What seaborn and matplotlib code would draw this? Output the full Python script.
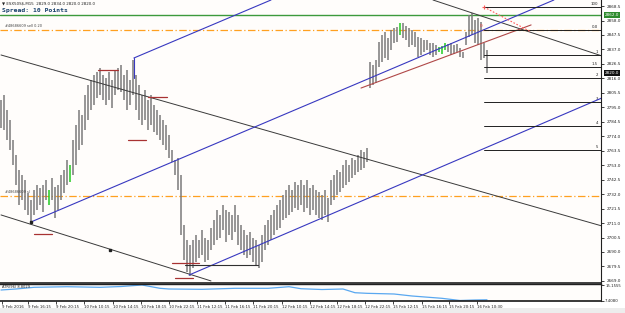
import matplotlib
matplotlib.use("Agg")
import matplotlib.pyplot as plt
import matplotlib.transforms as mtrans
import seaborn as sns
import pandas as pd

# ---------------- data ----------------
highs = [2800.5, 2804.0, 2793.0, 2786.0, 2771.5, 2760.5, 2749.5, 2746.0, 2742.5, 2733.0,
         2728.0, 2735.0, 2738.5, 2736.5, 2738.5, 2742.5, 2735.0, 2743.5, 2737.0, 2738.5,
         2746.0, 2749.5, 2757.0, 2753.0, 2771.5, 2782.0, 2793.0, 2789.5, 2804.0, 2811.0,
         2815.0, 2818.5, 2820.5, 2823.5, 2818.5, 2816.5, 2820.5, 2815.0, 2822.0, 2823.5,
         2825.5, 2818.5, 2822.0, 2815.0, 2829.5, 2818.5, 2811.0, 2804.0, 2807.5, 2800.5,
         2804.0, 2796.5, 2793.0, 2789.5, 2786.0, 2782.0, 2775.0, 2764.0, 2757.0, 2758.0,
         2746.0, 2709.5, 2698.5, 2695.0, 2698.5, 2702.5, 2698.5, 2706.0, 2700.0, 2698.5,
         2707.5, 2713.0, 2720.5, 2717.0, 2724.0, 2720.5, 2719.0, 2717.0, 2724.0, 2717.0,
         2709.5, 2706.0, 2702.5, 2704.5, 2700.0, 2698.5, 2695.0, 2702.5, 2709.5, 2713.0,
         2717.0, 2720.5, 2724.0, 2728.0, 2731.5, 2735.0, 2738.5, 2735.0, 2741.0, 2738.5,
         2742.5, 2738.5, 2742.5, 2736.5, 2738.5, 2735.0, 2733.5, 2731.5, 2735.0, 2729.0,
         2742.5, 2746.0, 2749.5, 2748.0, 2753.0, 2757.0, 2753.0, 2758.0, 2757.0, 2760.5,
         2764.0, 2762.5, 2765.5, 2828.0, 2825.5, 2829.5, 2842.5, 2847.5, 2849.5, 2845.5,
         2851.0, 2852.5, 2853.5, 2856.0, 2856.0, 2854.0, 2852.5, 2851.0, 2849.5, 2846.0,
         2845.5, 2844.0, 2844.0, 2841.5, 2841.5, 2840.0, 2839.0, 2839.5, 2841.5, 2841.0,
         2841.5, 2840.0, 2841.0, 2838.0, 2835.0, 2849.5, 2862.0, 2863.5, 2858.5, 2860.0,
         2857.0, 2841.5, 2836.5]
lows = [2780.0, 2778.5, 2771.5, 2764.0, 2753.0, 2738.5, 2724.0, 2728.0, 2720.5, 2717.0,
        2712.0, 2717.0, 2720.5, 2724.0, 2719.0, 2728.0, 2724.0, 2728.0, 2715.0, 2720.5,
        2728.0, 2733.0, 2738.5, 2741.0, 2746.0, 2753.0, 2764.0, 2767.5, 2778.5, 2786.0,
        2793.0, 2796.5, 2802.0, 2804.0, 2800.5, 2796.5, 2800.5, 2794.5, 2804.0, 2807.5,
        2806.0, 2800.5, 2793.0, 2796.5, 2804.0, 2793.0, 2786.0, 2782.0, 2786.0, 2778.5,
        2782.0, 2777.0, 2775.0, 2771.5, 2767.5, 2764.0, 2758.0, 2755.5, 2746.0, 2735.0,
        2702.5, 2684.0, 2675.5, 2672.5, 2678.5, 2683.0, 2685.5, 2688.0, 2683.0, 2684.0,
        2691.5, 2695.0, 2698.5, 2700.0, 2706.0, 2697.5, 2702.5, 2698.5, 2704.5, 2695.0,
        2691.5, 2688.0, 2685.5, 2688.0, 2683.0, 2680.5, 2678.5, 2683.0, 2691.5, 2695.0,
        2698.5, 2702.5, 2706.0, 2707.5, 2713.0, 2715.0, 2717.0, 2719.0, 2722.0, 2720.5,
        2724.0, 2719.0, 2722.0, 2717.0, 2720.5, 2717.0, 2715.0, 2713.0, 2717.0, 2712.0,
        2724.0, 2728.0, 2731.5, 2733.5, 2736.5, 2738.5, 2741.0, 2743.5, 2746.0, 2748.0,
        2749.5, 2751.0, 2755.5, 2809.0, 2811.0, 2812.5, 2824.5, 2828.0, 2831.0, 2829.5,
        2836.5, 2841.5, 2842.5, 2847.5, 2845.5, 2844.0, 2839.0, 2840.0, 2839.0, 2831.5,
        2833.0, 2835.0, 2836.5, 2833.0, 2831.5, 2833.0, 2835.0, 2834.0, 2836.5, 2835.0,
        2833.0, 2834.0, 2835.0, 2831.5, 2831.0, 2840.0, 2846.0, 2847.5, 2841.5, 2840.0,
        2829.5, 2831.0, 2820.0]
green_bars = [16, 23, 133, 146, 147, 148]

atr_idx = [0, 5, 11, 22, 33, 40, 47, 53, 56, 67, 78, 89, 96, 100, 107, 114, 118, 122,
           131, 137, 147, 153, 158, 162]
atr_val = [12.66, 13.16, 14.0, 14.3, 14.0, 14.4, 15.16, 13.5, 13.16, 13.0, 13.5, 13.5,
           14.3, 13.3, 12.9, 13.16, 11.3, 11.0, 10.66, 9.66, 8.5, 7.41, 7.66, 7.76]

price_ticks = [2669.0, 2679.5, 2690.0, 2700.5, 2711.0, 2721.5, 2732.0, 2742.5, 2753.0,
               2763.5, 2774.0, 2784.5, 2795.0, 2805.5, 2816.0, 2826.5, 2837.0, 2847.5,
               2858.0, 2868.5]
date_labels = ["9 Feb 2016", "9 Feb 16:15", "9 Feb 20:15", "10 Feb 10:15", "10 Feb 14:15",
               "10 Feb 18:15", "10 Feb 22:15", "11 Feb 12:15", "11 Feb 16:15", "11 Feb 20:15",
               "12 Feb 10:15", "12 Feb 14:15", "12 Feb 18:15", "12 Feb 22:15", "15 Feb 12:15",
               "15 Feb 16:15", "15 Feb 20:15", "16 Feb 10:30"]
date_pos = [0.33, 9.0, 18.3, 27.7, 37.3, 46.7, 56.0, 65.3, 74.7, 84.0, 93.7, 103.0,
            112.0, 121.3, 130.7, 140.3, 149.3, 158.7]

# drawn objects: (x0, y0, x1, y1) in bar index / price
black_lines = [(0, 2833.0, 200.3, 2708.9), (0, 2716.9, 70, 2669.0), (144, 2872.9, 200.3, 2832.3)]
blue_lines = [(10, 2711.8, 184.3, 2872.9), (44.3, 2830.8, 90, 2872.9), (62.7, 2673.3, 200.3, 2801.8)]
brown_line = (120, 2809.0, 176.7, 2854.8)
red_dotted = (161, 2867.8, 176.7, 2849.7)
fib_levels = [2867.8, 2851.1, 2833.0, 2824.3, 2816.3, 2798.9, 2781.5, 2764.0]
fib_labels = ["100", "0.0", "1", "1.5", "2", "3", "4", "5"]
fib_start = 161
red_marks = [(32.5, 39, 2822.1), (49, 55.3, 2802.5), (42.3, 48.3, 2771.3),
             (11, 17, 2703.1), (57, 66, 2682.0), (58, 64, 2671.2)]
black_mark = (61.3, 85.7, 2680.6)
orange_levels = [2851.1, 2730.7]
green_level = 2862.0
last_price = 2820.0

# ---------------- figure ----------------
sns.set_theme(style="white")
plt.rcParams['font.family'] = ['DejaVu Sans']
W, H = 625, 313
fig = plt.figure(figsize=(W / 100, H / 100), dpi=100)
fig.patch.set_facecolor('white')
ax = fig.add_axes([0, 1 - 283 / H, 601 / W, 283 / H])
ax2 = fig.add_axes([0, 1 - 301 / H, 601 / W, 17 / H])
for a in (ax, ax2):
    a.set_facecolor('#FFFDFB')
    for s in ('left', 'top'):
        a.spines[s].set_visible(False)
    a.spines['right'].set_color('#202020')
    a.spines['right'].set_linewidth(0.8)
    a.spines['bottom'].set_color('#202020')
ax.spines['bottom'].set_linewidth(1.2)
ax2.spines['top'].set_visible(True)
ax2.spines['top'].set_color('#202020')
ax2.spines['top'].set_linewidth(1.0)

XL = (-0.333, 200.0)
ax.set_xlim(*XL)
ax.set_ylim(2667.5, 2872.9)

idx = list(range(len(highs)))
cols = ['#22CC22' if i in green_bars else '#7A7A7A' for i in idx]
ax.vlines(idx, lows, highs, colors=cols, lw=1.1, zorder=3)

def seg(a, p, **kw):
    a.plot([p[0], p[2]], [p[1], p[3]], **kw)

for ln in black_lines:
    seg(ax, ln, color='#3A3A3A', lw=0.7, zorder=4)
for ln in blue_lines:
    seg(ax, ln, color='#3838C0', lw=0.8, zorder=4)
ax.plot([44.3, 44.3], [2830.8, 2816.3], color='#3838C0', lw=0.8, zorder=4)
seg(ax, brown_line, color='#B04848', lw=0.8, zorder=4)
seg(ax, red_dotted, color='#FF5A5A', lw=0.8, ls=(0, (1.5, 1.5)), zorder=5)
ax.plot([red_dotted[0]], [red_dotted[1]], marker='+', color='#FF5A5A', ms=3, mew=0.8)
ax.text(160.2, 2854.0, "0", color='#FF4040', fontsize=3.2, ha='center', va='center', zorder=6)

for lv, lab in zip(fib_levels, fib_labels):
    ax.plot([fib_start, XL[1]], [lv, lv], color='#202020', lw=0.7, zorder=4)
    ax.text(199.0, lv + 0.6, lab, fontsize=2.8, ha='right', va='bottom', color='#202020')

for x0, x1, y in red_marks:
    ax.plot([x0, x1], [y, y], color='#A83232', lw=0.9, zorder=4)
ax.plot([black_mark[0], black_mark[1]], [black_mark[2]] * 2, color='#303030', lw=0.8, zorder=4)
ax.plot([36.3], [2691.5], marker='s', color='#202020', ms=1.6, zorder=5)
ax.plot([10], [2711.8], marker='s', color='#202020', ms=1.6, zorder=5)

for lv in orange_levels:
    ax.axhline(lv, color='#FFA020', lw=0.9, ls=(0, (6, 2, 1, 2)), zorder=2)
ax.text(1.5, orange_levels[0] + 1.2, "#48686609 sell 0.20", fontsize=2.5, color='#404040', va='bottom')
ax.text(1.5, orange_levels[1] + 1.2, "#48686609 sl", fontsize=2.5, color='#404040', va='bottom')
ax.axhline(green_level, color='#3C9A3C', lw=1.0, zorder=2)

ax.text(0.3, 2870.6, "\u25bc ESX50S$,M15  2829.0 2834.0 2820.0 2820.0", fontsize=2.9,
        color='#202020', va='center')
ax.text(0.3, 2865.6, "Spread: 10 Points", fontsize=4.6, fontweight='bold',
        family='DejaVu Sans Mono', color='#17406B', va='center')

ax.yaxis.tick_right()
ax.set_yticks(price_ticks)
ax.set_yticklabels([f"{v:.1f}" for v in price_ticks])
ax.tick_params(axis='y', direction='out', length=2.5, width=0.6, labelsize=3.0, pad=1.5,
               colors='#202020', right=True)
ax.set_xticks([])

tr = mtrans.blended_transform_factory(ax.transAxes, ax.transData)
ax.text(1.006, green_level, f"{green_level:.1f}", transform=tr, fontsize=3.0, color='white',
        va='center', ha='left', bbox=dict(boxstyle='square,pad=0.2', fc='#2E8B2E', ec='none'))
ax.text(1.006, last_price, f"{last_price:.1f}", transform=tr, fontsize=3.0, color='white',
        va='center', ha='left', bbox=dict(boxstyle='square,pad=0.2', fc='#101010', ec='none'))

# indicator panel
df_atr = pd.DataFrame({"bar": atr_idx, "atr": atr_val})
sns.lineplot(data=df_atr, x="bar", y="atr", ax=ax2, color='#5AA8F0', lw=0.9)
ax2.set_xlim(*XL)
ax2.set_ylim(7.158, 15.66)
ax2.set_xlabel("")
ax2.set_ylabel("")
ax2.yaxis.tick_right()
ax2.set_yticks([7.408, 15.1555])
ax2.set_yticklabels(["7.4080", "15.1555"])
ax2.tick_params(axis='y', direction='out', length=2.0, width=0.6, labelsize=2.8, pad=1.0,
                colors='#202020', right=True)
ax2.set_xticks(date_pos)
ax2.set_xticklabels(date_labels, ha='left')
ax2.tick_params(axis='x', direction='out', length=2.0, width=0.6, labelsize=2.8, pad=1.2,
                colors='#202020', bottom=True)
ax2.text(0.3, 14.3, "ATR(96) 8.8029", fontsize=2.6, color='#202020', va='center')

fig.patches.append(plt.Rectangle((0, 0), 1, 5 / H, transform=fig.transFigure,
                                 fc='#EDEDED', ec='none', zorder=-1))
fig.savefig("out.png", dpi=100, facecolor=fig.get_facecolor())
